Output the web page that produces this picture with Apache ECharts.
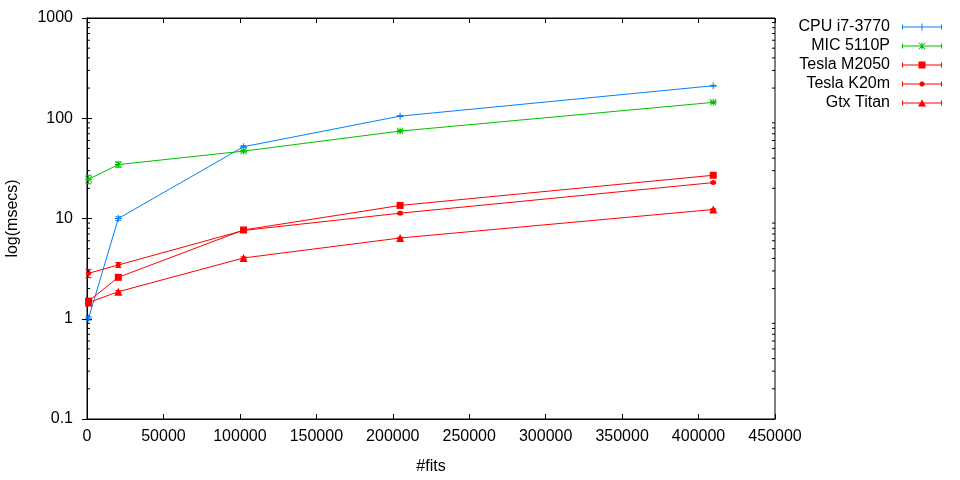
<!DOCTYPE html>
<html>
<head>
<meta charset="utf-8">
<script src="https://cdn.jsdelivr.net/npm/echarts@6/dist/echarts.min.js"></script>
<style>html,body{margin:0;padding:0;background:#fff;}#c{width:960px;height:480px;}</style>
</head>
<body>
<div id="c"></div>
<script>
// ---- data ----
const seriesNames = ['CPU i7-3770', 'MIC 5110P', 'Tesla M2050', 'Tesla K20m', 'Gtx Titan'];
const fits = [1024, 20480, 102400, 204800, 409600];
const cpuTimes   = [1.01, 10.0, 52, 105, 211];
const micTimes   = [24.6, 34.5, 47, 74.5, 144];
const m2050Times = [1.50, 2.59, 7.68, 13.5, 27];
const k20mTimes  = [2.84, 3.44, 7.6, 11.3, 22.8];
const titanTimes = [1.45, 1.86, 4.04, 6.39, 12.3];
const cpuErr   = [0.04, 0.4, 1.2, 1.2, 2];
const micErr   = [2.4, 2.0, 1.0, 1.5, 3];
const m2050Err = [0.08, 0.1, 0.2, 0.3, 0.5];
const k20mErr  = [0.27, 0.2, 0.2, 0.3, 0.4];
const titanErr = [0.05, 0.05, 0.1, 0.1, 0.2];
const xTicks = [0, 50000, 100000, 150000, 200000, 250000, 300000, 350000, 400000, 450000];
const yTicks = [0.1, 1, 10, 100, 1000];
const yMinorTicks = [0.2,0.3,0.4,0.5,0.6,0.7,0.8,0.9, 2,3,4,5,6,7,8,9, 20,30,40,50,60,70,80,90, 200,300,400,500,600,700,800,900];

const colors = ['#0080ff', '#00c000', '#ff0000', '#ff0000', '#ff0000'];
const FONT = 'Liberation Sans, Arial, sans-serif';

const symPlus = 'path://M3,0H4V7H3Z M0,3H7V4H0Z';
const symStar = 'path://M3,0H4V7H3Z M0,3H7V4H0Z M0.6,0L7,6.4L6.4,7L0,0.6Z M6.4,0L7,0.6L0.6,7L0,6.4Z';
const symbols = [symPlus, symStar, 'rect', 'circle', 'triangle'];
const symSizes = [7, 7, 7, 5, 8];

const base = 'M0,3H40V4H0Z M0,1H1V6H0Z M39,1H40V6H39Z ';
const legendIcons = [
  'path://' + base + 'M19.5,0H20.5V7H19.5Z',
  'path://' + base + 'M19.5,0H20.5V7H19.5Z M17.1,0L23.5,6.4L22.9,7L16.5,0.6Z M22.9,0L23.5,0.6L17.1,7L16.5,6.4Z',
  'path://' + base + 'M16.5,0H23.5V7H16.5Z',
  'path://' + base + 'M19,1H21L22.5,2.5V4.5L21,6H19L17.5,4.5V2.5Z',
  'path://' + base + 'M16,7L20,0L24,7Z'
];
const legendRowCenters = [27, 46, 65, 84, 103];

const values = [cpuTimes, micTimes, m2050Times, k20mTimes, titanTimes];
const errs = [cpuErr, micErr, m2050Err, k20mErr, titanErr];

function errRender(params, api) {
  const x = api.value(0), y = api.value(1), e = api.value(2);
  const t = api.coord([x, y + e]);
  const b = api.coord([x, Math.max(y - e, 1e-6)]);
  const c = api.visual('color');
  const hw = 3;
  const st = {stroke: c, lineWidth: 1};
  return {type: 'group', children: [
    {type: 'line', shape: {x1: t[0], y1: t[1], x2: b[0], y2: b[1]}, style: st},
    {type: 'line', shape: {x1: t[0] - hw, y1: t[1], x2: t[0] + hw, y2: t[1]}, style: st},
    {type: 'line', shape: {x1: b[0] - hw, y1: b[1], x2: b[0] + hw, y2: b[1]}, style: st}
  ]};
}

const series = [];
seriesNames.forEach((name, i) => {
  series.push({
    name: name, type: 'custom', renderItem: errRender, silent: true,
    itemStyle: {color: colors[i]},
    data: fits.map((x, j) => [x, values[i][j], errs[i][j]]),
    z: 2
  });
});
seriesNames.forEach((name, i) => {
  series.push({
    name: name, type: 'line',
    data: fits.map((x, j) => [x, values[i][j]]),
    symbol: symbols[i], symbolSize: symSizes[i],
    showAllSymbol: true,
    lineStyle: {color: colors[i], width: 1},
    itemStyle: {color: colors[i], borderWidth: 0},
    emphasis: {disabled: true},
    animation: false,
    z: 3
  });
});
// minor ticks of the log axis (left and right, inward)
series.push({
  type: 'custom', silent: true,
  data: yMinorTicks.map(v => [0, v]),
  renderItem: function (params, api) {
    const v = api.value(1);
    const l = api.coord([0, v]);
    const r = api.coord([450000, v]);
    const st = {stroke: '#000', lineWidth: 1};
    return {type: 'group', children: [
      {type: 'line', shape: {x1: l[0], y1: l[1], x2: l[0] + 3, y2: l[1]}, style: st},
      {type: 'line', shape: {x1: r[0] - 3, y1: r[1], x2: r[0], y2: r[1]}, style: st}
    ]};
  },
  z: 5
});

const legends = seriesNames.map((name, i) => ({
  data: [{name: name, icon: legendIcons[i]}],
  orient: 'vertical', align: 'right',
  right: 18, top: legendRowCenters[i] - 8,
  padding: 0, itemWidth: 40, itemHeight: 7,
  selectedMode: false,
  itemStyle: {borderWidth: 0},
  textStyle: {fontFamily: FONT, fontSize: 16, color: '#000', padding: [0, 7, 0, 0]}
}));

const axisCommon = {
  axisLine: {show: true, lineStyle: {color: '#000', width: 1}},
  axisTick: {show: true, inside: true, length: 5, lineStyle: {color: '#000'}},
  splitLine: {show: false}
};

const chart = echarts.init(document.getElementById('c'), null, {renderer: 'canvas'});
chart.setOption({
  animation: false,
  backgroundColor: '#fff',
  grid: {left: 87, right: 185, top: 18, bottom: 61, containLabel: false, outerBoundsMode: 'none',
    show: true, borderColor: '#000', borderWidth: 1, backgroundColor: 'transparent'},
  legend: legends,
  xAxis: [
    Object.assign({
      type: 'value', min: xTicks[0], max: xTicks[xTicks.length - 1], interval: 50000, position: 'bottom',
      name: '#fits', nameLocation: 'middle', nameGap: 40,
      nameTextStyle: {fontFamily: FONT, fontSize: 16, color: '#000'},
      axisLabel: {fontFamily: FONT, fontSize: 16, color: '#000', margin: 10, formatter: v => String(v)}
    }, axisCommon),
    Object.assign({
      type: 'value', min: xTicks[0], max: xTicks[xTicks.length - 1], interval: 50000, position: 'top',
      axisLabel: {show: false}
    }, axisCommon)
  ],
  yAxis: [
    Object.assign({
      type: 'log', logBase: 10, min: yTicks[0], max: yTicks[yTicks.length - 1], position: 'left',
      name: 'log(msecs)', nameLocation: 'middle', nameGap: 66, nameRotate: 90,
      nameTextStyle: {fontFamily: FONT, fontSize: 16, color: '#000'},
      axisLabel: {fontFamily: FONT, fontSize: 16, color: '#000', margin: 14,
        formatter: v => String(v)}
    }, axisCommon),
    Object.assign({
      type: 'log', logBase: 10, min: yTicks[0], max: yTicks[yTicks.length - 1], position: 'right',
      axisLabel: {show: false}
    }, axisCommon)
  ],
  series: series
});
</script>
</body>
</html>
